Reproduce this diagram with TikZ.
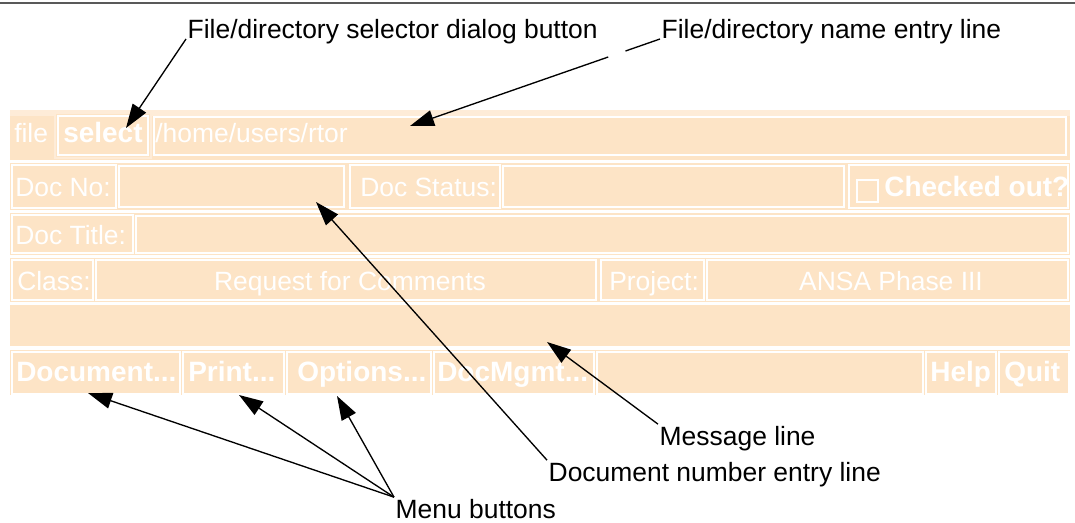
\documentclass[tikz,border=0pt]{standalone}
\usepackage{fontspec}
\setmainfont{Liberation Sans}
\usepackage{tikz}
\usetikzlibrary{
    arrows.meta,
    positioning
}
\definecolor{peach}{RGB}{253,228,198}
\definecolor{peachlight}{RGB}{254,236,216}
\tikzset{
    winrow/.style={fill=peach},
    widget/.style={draw=white, line width=1.1pt},
    guitext/.style={text=white, font=\fontsize{18.8}{22}\selectfont, inner sep=0pt, anchor=base west},
    guibold/.style={guitext, font=\fontsize{19.9}{22}\selectfont\bfseries},
    callout/.style={font=\fontsize{18.8}{22}\selectfont, inner sep=1pt, anchor=base west},
    pointer/.style={-{Triangle[length=0.6cm, width=0.4cm]}, line width=0.95pt}
}

\begin{document}
\begin{tikzpicture}[x=0.025cm, y=-0.025cm]
                        \useasboundingbox (0, 0) rectangle (1075, 523);
                        \draw[line width=1.2pt, black!65] (0, 3) -- (1075, 3);

                        \fill[winrow] (10, 110) rectangle (1070, 160);
                        \fill[peachlight] (10, 110) rectangle (1070, 116);
                        \fill[winrow] (10, 163) rectangle (1070, 210);
                        \fill[winrow] (10, 213) rectangle (1070, 255);
                        \fill[winrow] (10, 258) rectangle (1070, 302);
                        \fill[winrow] (10, 305) rectangle (1070, 346);
                        \fill[winrow] (10, 350) rectangle (1070, 395);

                        \draw[widget, fill=peach, draw=peachlight] (55, 113) rectangle (151, 158);
                        \draw[widget] (58, 116) rectangle (148, 155);
                        \draw[widget, fill=peach] (154, 117) rectangle (1066, 155);

                        \draw[widget] (12, 165) rectangle (116, 208);
                        \draw[widget] (119, 166) rectangle (344, 207);
                        \draw[widget] (350, 165) rectangle (500, 208);
                        \draw[widget] (503, 166) rectangle (844, 207);
                        \draw[widget] (849, 165) rectangle (1068, 208);
                        \draw[widget] (857, 180) rectangle (878, 202);

                        \draw[widget] (12, 215) rectangle (133, 253);
                        \draw[widget] (136, 216) rectangle (1068, 253);

                        \draw[widget] (12, 260) rectangle (93, 300);
                        \draw[widget] (96, 260) rectangle (596, 300);
                        \draw[widget] (601, 260) rectangle (704, 300);
                        \draw[widget] (707, 260) rectangle (1068, 300);

                        \draw[widget] (12, 352) rectangle (180, 394);
                        \draw[widget] (183, 352) rectangle (284, 394);
                        \draw[widget] (287, 352) rectangle (431, 394);
                        \draw[widget] (434, 352) rectangle (594, 394);
                        \draw[widget] (597, 352) rectangle (923, 394);
                        \draw[widget] (926, 352) rectangle (996, 394);
                        \draw[widget] (999, 352) rectangle (1069, 394);

                        \node[guitext] (file) at (14, 143) {file};
                        \node[guibold] (select) at (63, 143) {select};
                        \node[guitext] (path) at (155, 143) {/home/users/rtor};
                        \node[guitext] (docno) at (15, 197) {Doc No:};
                        \node[guitext] (docstatus) at (360, 197) {Doc Status:};
                        \node[guibold] (checked) at (884, 197) {Checked out?};
                        \node[guitext] (doctitle) at (15, 245) {Doc Title:};
                        \node[guitext] (class) at (17, 291) {Class:};
                        \node[guitext, anchor=base] (classval) at (350, 291) {Request for Comments};
                        \node[guitext] (project) at (609, 291) {Project:};
                        \node[guitext, anchor=base] (projval) at (891, 291) {ANSA Phase III};
                        \node[guibold] (bdoc) at (16, 382) {Document...};
                        \node[guibold] (bprint) at (188, 382) {Print...};
                        \node[guibold] (bopt) at (297, 382) {Options...};
                        \node[guibold] (bmgmt) at (437, 382) {DocMgmt...};
                        \node[guibold] (bhelp) at (930, 382) {Help};
                        \node[guibold] (bquit) at (1004, 382) {Quit};

                        \node[callout] (lblselect) at (186, 39) {File/directory selector dialog button};
                        \node[callout] (lblname) at (660, 39) {File/directory name entry line};
                        \node[callout] (lblmsg) at (658, 445) {Message line};
                        \node[callout] (lbldocno) at (547, 481) {Document number entry line};
                        \node[callout] (lblmenu) at (394, 518) {Menu buttons};

                        \coordinate (selecttip) at (126, 128);
                        \coordinate (nametip) at (410, 126);
                        \coordinate (docnotip) at (316, 202);
                        \coordinate (msgtip) at (547, 342);
                        \coordinate (doctip) at (88, 393);
                        \coordinate (printtip) at (239, 395);
                        \coordinate (opttip) at (337, 396);

                        \draw
                        (lblselect.base west) edge[pointer] (selecttip)
                        (lblname.base west) edge[pointer, dash pattern=on 26pt off 13pt on 400pt] (nametip)
                        (lbldocno.north west) edge[pointer] (docnotip)
                        (lblmsg.north west) edge[pointer] (msgtip)
                        (lblmenu.north west) edge[pointer] (doctip)
                        (lblmenu.north west) edge[pointer] (printtip)
                        (lblmenu.north west) edge[pointer] (opttip);
                    \end{tikzpicture}
\end{document}
